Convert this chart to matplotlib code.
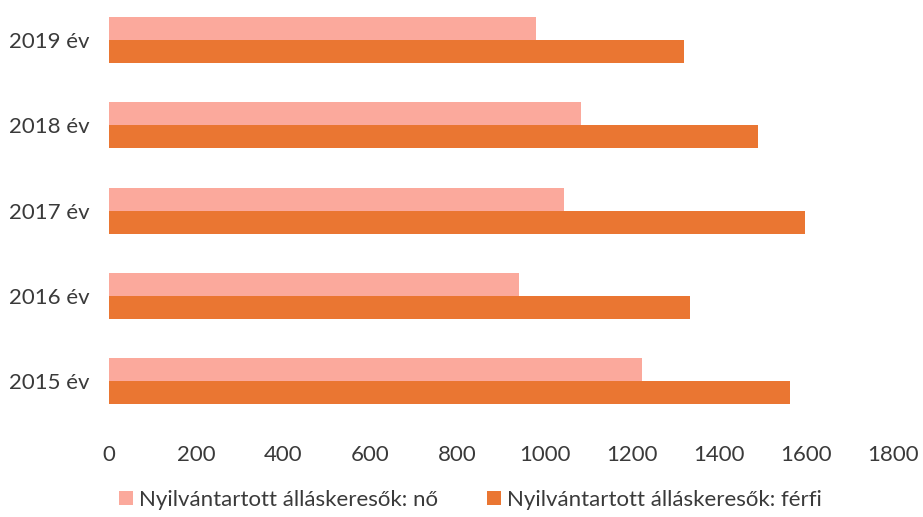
import numpy as np
import matplotlib.pyplot as plt

years = ["2015 év", "2016 év", "2017 év", "2018 év", "2019 év"]
no_vals = [1223, 941, 1044, 1084, 980]
ferfi_vals = [1563, 1333, 1597, 1489, 1320]
labels = ["Nyilvántartott álláskeresők: nő", "Nyilvántartott álláskeresők: férfi"]
xticks = [0, 200, 400, 600, 800, 1000, 1200, 1400, 1600, 1800]

plt.rcParams['font.family'] = ['Lato', 'DejaVu Sans']

fig = plt.figure(figsize=(9.23, 5.17), dpi=100)
ax = fig.add_axes([0.118, 0.18, 0.8495, 0.825])

y = np.arange(len(years))
h = 0.27
ax.barh(y + h / 2, no_vals, height=h, color="#FBA99C", label=labels[0])
ax.barh(y - h / 2, ferfi_vals, height=h, color="#EA7632", label=labels[1])

ax.set_xlim(0, 1800)
ax.set_ylim(-0.5, 4.5)
ax.set_yticks(y)
ax.set_yticklabels(years)
ax.set_xticks(xticks)
for s in ax.spines.values():
    s.set_visible(False)
ax.tick_params(axis="both", length=0, labelsize=16, colors="#3a3a3a")
ax.tick_params(axis="x", pad=15)
ax.tick_params(axis="y", pad=14)

fig.legend(loc="lower center", ncol=2, frameon=False, fontsize=16,
           handlelength=0.6, handleheight=0.6, handletextpad=0.3,
           columnspacing=2.2, bbox_to_anchor=(0.51, -0.025), labelcolor="#3a3a3a")

fig.savefig("out.png", dpi=100)
